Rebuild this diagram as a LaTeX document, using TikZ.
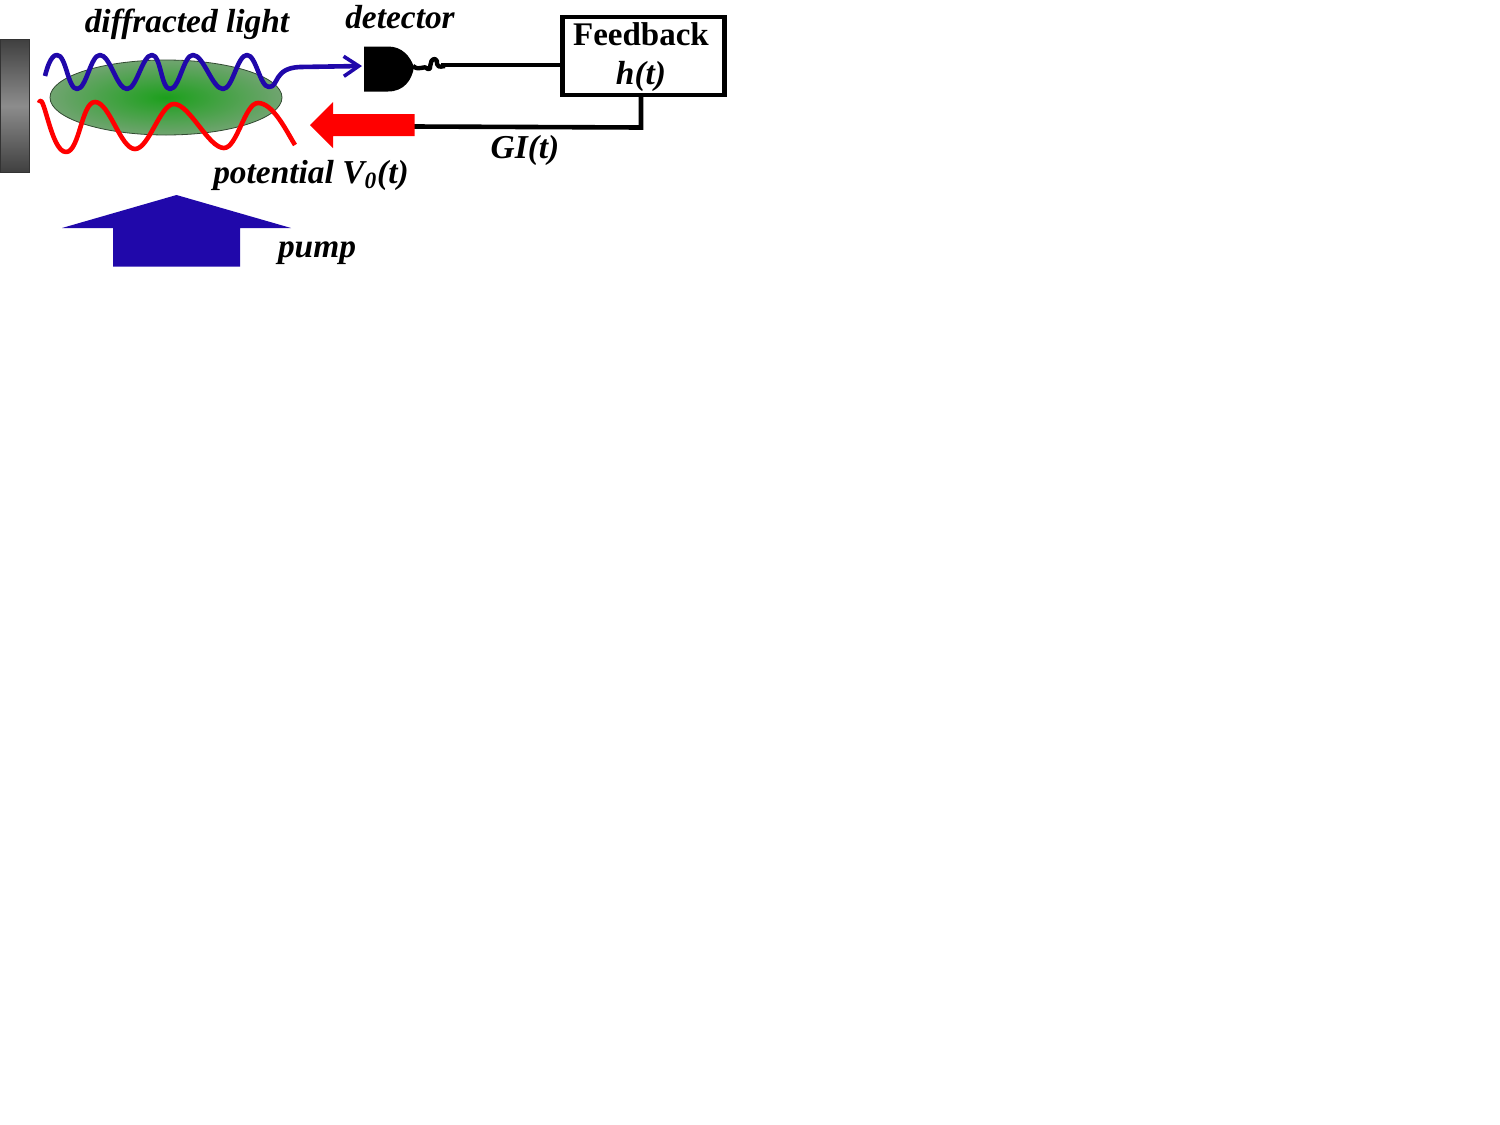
\documentclass[tikz,border=0pt]{standalone}
\usepackage{fontspec}
\setmainfont{Liberation Serif}
\usetikzlibrary{arrows.meta}
\definecolor{pumpblue}{RGB}{32,8,170}
\definecolor{cloudcore}{RGB}{28,160,28}
\definecolor{cloudrim}{RGB}{112,164,112}
\tikzset{
  wave/.style={line width=2.3pt,line cap=butt,line join=round},
  wire/.style={line width=2.3pt,black},
  lbl/.style={anchor=base,inner sep=0pt,font=\fontsize{16.7}{18}\selectfont\bfseries\itshape},
  seg/.style={out=0,in=180,looseness=0.6}
}
\begin{document}
\begin{tikzpicture}[x=0.5pt,y=-0.5pt]
\useasboundingbox (0,0) rectangle (1500,1125);

% mirror
\shade[top color=black!75,bottom color=black!75,middle color=black!45,draw=black!80,line width=0.5pt]
  (0,39.5) rectangle (29.5,172);

% atomic cloud
\shade[inner color=cloudcore,outer color=cloudrim,draw=black!55!cloudrim,line width=0.4pt]
  (166,97.5) ellipse [x radius=116,y radius=37.5];

% detector body
\fill[black] (364,46.5) -- (388,46.5) .. controls (402,46.5) and (410,56) .. (414,67)
  .. controls (412,80) and (404,91.5) .. (388,91.5) -- (364,91.5) -- cycle;
\coordinate (detin) at (362,66);
\coordinate (detout) at (413,66);

% feedback box
\node (fb) [draw,line width=2.3pt,minimum width=81pt,minimum height=39pt,inner sep=0pt,outer sep=0pt] at (643.75,56) {};
\coordinate (fbw) at (fb.west |- 0,65);
\coordinate (fbs) at (641,95);

% diffracted light
\draw[wave,pumpblue,-{Straight Barb[length=7.5pt,width=10pt,line width=1.8pt]}]
  (45,76) to[out=75,in=180,looseness=0.7] (57,55) to[seg] (77,89) to[seg] (100,55) to[seg] (127,89)
  to[seg] (152,55) to[seg] (170,89) to[seg] (193,55) to[seg] (223,89) to[seg] (247,55)
  to[seg] (269,87) .. controls (279,87) and (273,68) .. (300,67) -- (detin);

% optical potential
\draw[wave,red]
  (39,103) to[out=72,in=180,looseness=0.7] (66,152) to[seg] (95,102) to[seg] (135,149) to[seg] (174,104)
  to[seg] (224,148) to[seg] (258,103) to[out=0,in=122,looseness=0.7] (295,145);

% detector output
\draw[line width=2.2pt,line join=round] (detout) .. controls (420,72) and (424,64) .. (428,69)
  .. controls (432,72) and (428,59) .. (435,59) .. controls (440,60) and (432,69) .. (445,66);
\draw[wire] (441,65) -- (fbw);

% feedback signal
\draw[wire] (fbs) -- (641,127.5) -- (414,126.5);

% actuator arrow
\fill[red] (310,125) -- (333,102) -- (333,114) -- (414.5,114) -- (414.5,136) -- (333,136) -- (333,148) -- cycle;

% pump beam
\fill[pumpblue] (176.5,195) -- (291,228) -- (240,228) -- (240,266.5) -- (113,266.5) -- (113,228) -- (62,228) -- cycle;

% labels
\node[lbl] (tdiff) at (187,32) {diffracted light};
\node[lbl] (tdet) at (400,28.5) {detector};
\node[lbl,font=\fontsize{16.5}{18}\selectfont\bfseries] (tfb) at (641,45) {Feedback};
\node[lbl] (th) at (641,84.5) {h(t)};
\node[lbl] (tgi) at (525,158.5) {GI(t)};
\node[lbl] (tpot) at (311,183) {potential V\textsubscript{0}(t)};
\node[lbl] (tpump) at (317,257.5) {pump};
\end{tikzpicture}
\end{document}
